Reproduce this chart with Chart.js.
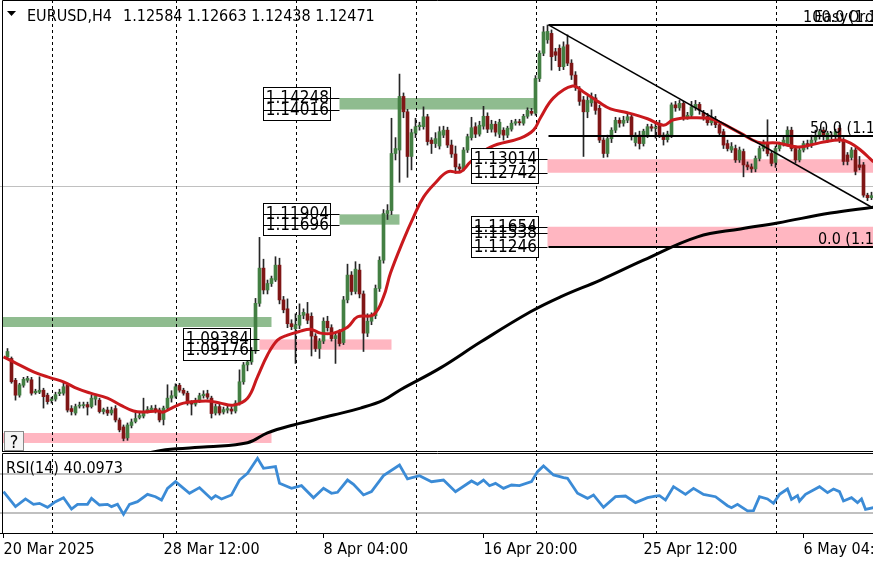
<!DOCTYPE html>
<html>
<head>
<meta charset="utf-8">
<title>EURUSD,H4</title>
<script src="https://cdn.jsdelivr.net/npm/chart.js@4.4.1/dist/chart.umd.min.js"></script>
<style>
  body { margin: 0; background: #fff; }
  #wrap { position: relative; width: 873px; height: 562px; overflow: hidden; background: #fff; }
  canvas { position: absolute; left: 0; }
</style>
</head>
<body>
<div id="wrap">
  <canvas id="main" width="873" height="452" style="top:0px"></canvas>
  <canvas id="rsi" width="873" height="109" style="top:453px"></canvas>
</div>
<script>
// H4 candles, bar 0 = 20 Mar 2025 00:00
var opens = [
  1.0903,1.0900,1.0856,1.0826,1.0846,1.0856,1.0857,1.0831,1.0832,1.0836,
  1.0826,1.0815,1.0818,1.0829,1.0830,1.0846,1.0799,1.0790,1.0804,1.0805,
  1.0807,1.0803,1.0818,1.0816,1.0793,1.0796,1.0790,1.0799,1.0776,1.0762,
  1.0740,1.0765,1.0773,1.0781,1.0784,1.0794,1.0797,1.0799,1.0796,1.0777,
  1.0800,1.0820,1.0824,1.0846,1.0836,1.0830,1.0810,1.0808,1.0815,1.0825,
  1.0829,1.0820,1.0790,1.0803,1.0792,1.0796,1.0798,1.0794,1.0810,1.0853,
  1.0887,1.0893,1.0915,1.1011,1.1082,1.1038,1.1051,1.1058,1.1088,1.1018,
  1.1000,1.0970,1.0960,1.0967,1.0987,1.0990,1.0985,1.0945,1.0920,1.0935,
  1.0975,1.0962,1.0940,1.0953,1.0932,1.1018,1.1068,1.1035,1.1078,1.1030,
  1.0951,1.0975,1.0986,1.1041,1.1098,1.1192,1.1198,1.1313,1.1320,1.1428,
  1.1397,1.1307,1.1354,1.1367,1.1367,1.1387,1.1340,1.1333,1.1328,1.1350,
  1.1360,1.1330,1.1312,1.1286,1.1282,1.1320,1.1345,1.1367,1.1352,1.1368,
  1.1388,1.1362,1.1372,1.1352,1.1360,1.1350,1.1362,1.1374,1.1377,1.1374,
  1.1388,1.1398,1.1394,1.1464,1.1515,1.1542,1.1555,1.1518,1.1525,1.1488,
  1.1532,1.1495,1.1471,1.1440,1.1421,1.1397,1.1415,1.1425,1.1404,1.1340,
  1.1313,1.1343,1.1360,1.1380,1.1374,1.1380,1.1387,1.1335,1.1350,1.1333,
  1.1350,1.1367,1.1364,1.1374,1.1350,1.1341,1.1350,1.1411,1.1405,1.1414,
  1.1387,1.1390,1.1405,1.1412,1.1395,1.1388,1.1375,1.1382,1.1371,1.1357,
  1.1333,1.1320,1.1323,1.1300,1.1317,1.1290,1.1286,1.1282,1.1303,1.1323,
  1.1333,1.1313,1.1295,1.1323,1.1333,1.1333,1.1360,1.1323,1.1300,1.1320,
  1.1333,1.1330,1.1340,1.1347,1.1360,1.1340,1.1350,1.1347,1.1364,1.1340,
  1.1310,1.1305,1.1320,1.1290,1.1290,1.1229,1.1224
];
var highs = [
  1.0920,1.0903,1.0860,1.0850,1.0862,1.0864,1.0862,1.0838,1.0863,1.0840,
  1.0830,1.0822,1.0832,1.0838,1.0850,1.0850,1.0805,1.0808,1.0812,1.0812,
  1.0812,1.0826,1.0828,1.0820,1.0800,1.0802,1.0802,1.0805,1.0780,1.0766,
  1.0770,1.0778,1.0792,1.0790,1.0820,1.0803,1.0805,1.0806,1.0800,1.0804,
  1.0847,1.0835,1.0849,1.0850,1.0840,1.0834,1.0815,1.0820,1.0830,1.0835,
  1.0836,1.0824,1.0808,1.0808,1.0802,1.0804,1.0803,1.0815,1.0877,1.0892,
  1.0905,1.0922,1.1021,1.1144,1.1100,1.1058,1.1066,1.1105,1.1102,1.1025,
  1.1020,1.0978,1.0990,1.1010,1.1000,1.1013,1.0992,1.0950,1.0940,1.0982,
  1.0985,1.0968,1.0952,1.0958,1.1025,1.1090,1.1075,1.1095,1.1090,1.1036,
  1.0990,1.0992,1.1048,1.1105,1.1200,1.1210,1.1384,1.1345,1.1473,1.1435,
  1.1402,1.1362,1.1384,1.1376,1.1407,1.1392,1.1345,1.1355,1.1367,1.1368,
  1.1366,1.1340,1.1328,1.1292,1.1325,1.1352,1.1386,1.1375,1.1378,1.1408,
  1.1395,1.1380,1.1378,1.1382,1.1365,1.1368,1.1380,1.1382,1.1382,1.1392,
  1.1405,1.1404,1.1470,1.1520,1.1569,1.1572,1.1562,1.1525,1.1532,1.1538,
  1.1552,1.1502,1.1478,1.1448,1.1428,1.1428,1.1435,1.1432,1.1410,1.1345,
  1.1350,1.1365,1.1386,1.1385,1.1388,1.1392,1.1392,1.1355,1.1358,1.1362,
  1.1372,1.1372,1.1378,1.1380,1.1355,1.1358,1.1415,1.1418,1.1420,1.1418,
  1.1396,1.1418,1.1420,1.1416,1.1400,1.1394,1.1401,1.1388,1.1375,1.1362,
  1.1340,1.1335,1.1330,1.1326,1.1322,1.1296,1.1292,1.1308,1.1328,1.1340,
  1.1381,1.1318,1.1328,1.1336,1.1346,1.1367,1.1366,1.1328,1.1325,1.1338,
  1.1340,1.1350,1.1360,1.1362,1.1366,1.1358,1.1356,1.1362,1.1370,1.1345,
  1.1315,1.1325,1.1325,1.1307,1.1295,1.1233,1.1235
];
var lows = [
  1.0898,1.0850,1.0816,1.0822,1.0842,1.0852,1.0826,1.0828,1.0829,1.0800,
  1.0808,1.0810,1.0814,1.0825,1.0826,1.0792,1.0786,1.0786,1.0800,1.0800,
  1.0786,1.0800,1.0806,1.0790,1.0788,1.0785,1.0786,1.0772,1.0752,1.0734,
  1.0735,1.0760,1.0770,1.0778,1.0780,1.0790,1.0793,1.0790,1.0772,1.0766,
  1.0797,1.0812,1.0820,1.0832,1.0826,1.0806,1.0786,1.0804,1.0811,1.0820,
  1.0818,1.0780,1.0786,1.0786,1.0788,1.0790,1.0788,1.0790,1.0806,1.0848,
  1.0875,1.0888,1.0910,1.1005,1.1030,1.1030,1.1045,1.1055,1.1010,1.0992,
  1.0962,1.0958,1.0890,1.0960,1.0980,1.0970,1.0905,1.0914,1.0900,1.0930,
  1.0955,1.0935,1.0890,1.0925,1.0928,1.1012,1.1028,1.1030,1.1022,1.0914,
  1.0944,1.0968,1.0980,1.1035,1.1092,1.1180,1.1190,1.1300,1.1255,1.1385,
  1.1265,1.1280,1.1345,1.1360,1.1362,1.1330,1.1313,1.1325,1.1322,1.1345,
  1.1325,1.1305,1.1273,1.1275,1.1278,1.1315,1.1340,1.1345,1.1348,1.1362,
  1.1355,1.1356,1.1348,1.1345,1.1340,1.1345,1.1358,1.1370,1.1370,1.1370,
  1.1384,1.1390,1.1390,1.1458,1.1510,1.1535,1.1481,1.1500,1.1480,1.1482,
  1.1490,1.1462,1.1440,1.1410,1.1307,1.1385,1.1408,1.1392,1.1335,1.1305,
  1.1306,1.1335,1.1355,1.1366,1.1368,1.1375,1.1340,1.1328,1.1322,1.1328,
  1.1345,1.1358,1.1344,1.1345,1.1330,1.1336,1.1345,1.1398,1.1400,1.1380,
  1.1382,1.1386,1.1400,1.1392,1.1380,1.1370,1.1370,1.1365,1.1350,1.1323,
  1.1318,1.1315,1.1295,1.1295,1.1266,1.1280,1.1275,1.1276,1.1298,1.1318,
  1.1308,1.1288,1.1285,1.1318,1.1328,1.1328,1.1318,1.1294,1.1296,1.1316,
  1.1322,1.1325,1.1335,1.1342,1.1340,1.1335,1.1342,1.1342,1.1335,1.1290,
  1.1290,1.1300,1.1270,1.1280,1.1225,1.1218,1.1220
];
var closes = [
  1.0914,1.0853,1.0826,1.0847,1.0858,1.0860,1.0830,1.0834,1.0836,1.0823,
  1.0813,1.0818,1.0827,1.0832,1.0843,1.0796,1.0793,1.0803,1.0806,1.0807,
  1.0802,1.0820,1.0824,1.0793,1.0797,1.0790,1.0796,1.0776,1.0756,1.0739,
  1.0766,1.0772,1.0779,1.0785,1.0793,1.0797,1.0800,1.0795,1.0776,1.0800,
  1.0820,1.0825,1.0843,1.0836,1.0830,1.0810,1.0808,1.0815,1.0825,1.0828,
  1.0822,1.0789,1.0803,1.0790,1.0797,1.0799,1.0794,1.0810,1.0853,1.0887,
  1.0893,1.0915,1.1011,1.1082,1.1038,1.1051,1.1061,1.1088,1.1018,1.0998,
  1.0970,1.0964,1.0968,1.0987,1.0993,1.0977,1.0945,1.0920,1.0935,1.0975,
  1.0962,1.0940,1.0946,1.0930,1.1018,1.1068,1.1035,1.1080,1.1030,1.0951,
  1.0975,1.0986,1.1041,1.1098,1.1192,1.1198,1.1313,1.1323,1.1428,1.1397,
  1.1307,1.1355,1.1367,1.1370,1.1387,1.1337,1.1333,1.1343,1.1357,1.1360,
  1.1330,1.1312,1.1286,1.1282,1.1320,1.1347,1.1365,1.1352,1.1370,1.1388,
  1.1362,1.1372,1.1356,1.1376,1.1350,1.1364,1.1374,1.1377,1.1375,1.1388,
  1.1400,1.1394,1.1464,1.1515,1.1558,1.1559,1.1508,1.1511,1.1488,1.1528,
  1.1495,1.1471,1.1448,1.1418,1.1397,1.1420,1.1428,1.1400,1.1340,1.1313,
  1.1343,1.1360,1.1380,1.1374,1.1380,1.1387,1.1347,1.1350,1.1333,1.1358,
  1.1367,1.1364,1.1366,1.1350,1.1341,1.1352,1.1411,1.1405,1.1414,1.1387,
  1.1390,1.1407,1.1412,1.1400,1.1388,1.1375,1.1385,1.1371,1.1354,1.1330,
  1.1323,1.1327,1.1300,1.1320,1.1290,1.1286,1.1282,1.1303,1.1323,1.1333,
  1.1313,1.1293,1.1323,1.1330,1.1340,1.1360,1.1323,1.1300,1.1320,1.1333,
  1.1328,1.1340,1.1347,1.1357,1.1347,1.1354,1.1347,1.1357,1.1340,1.1297,
  1.1297,1.1320,1.1277,1.1285,1.1229,1.1224,1.1228
];

// moving averages (bar index, price)
var redMaBars = [-1, 1.5, 6.5, 10.75, 14, 17.5, 20.75, 25, 28.25, 31.5, 34, 37.5, 39, 41.5, 44, 48.25, 50.75, 53.25, 56.5, 60,
  62.5, 65, 67.5, 70, 73.25, 75.75, 78.25, 81.5, 85, 87.5, 91.5, 94, 95.75, 99, 101.5, 104, 107, 110, 113.25, 115.75,
  120.75, 128.25, 131.5, 133.25, 136.5, 141.25, 144, 147.75, 150.75, 155, 160, 164, 166.5, 171.5, 175.75, 178.25, 183.25, 187.5, 192.5, 197.5,
  200.75, 204, 208.25, 210.75, 213.25, 216.5];
var redMaVals = [1.0903, 1.0893, 1.0873, 1.0861, 1.0853, 1.0839, 1.0830, 1.0820, 1.0806, 1.0794, 1.0792, 1.0794, 1.0792, 1.0802, 1.0810, 1.0814, 1.0814, 1.0810, 1.0806, 1.0820,
  1.0863, 1.0907, 1.0937, 1.0947, 1.0955, 1.0959, 1.0951, 1.0951, 1.0963, 1.0984, 1.0988, 1.1024, 1.1072, 1.1139, 1.1185, 1.1225, 1.1254, 1.1276, 1.1276, 1.1296,
  1.1326, 1.1344, 1.1360, 1.1385, 1.1425, 1.1449, 1.1437, 1.1417, 1.1403, 1.1395, 1.1383, 1.1370, 1.1381, 1.1385, 1.1383, 1.1375, 1.1354, 1.1336, 1.1334, 1.1326,
  1.1330, 1.1336, 1.1340, 1.1334, 1.1320, 1.1296];
var blackMaBars = [33.25, 39.5, 50, 60, 65, 71.5, 81.5, 88.25, 94, 98.25, 108.25, 118.25, 130.75, 138.25, 148.25, 159, 172.5, 183.25, 192.5, 205.75, 216.5];
var blackMaVals = [1.0706, 1.0716, 1.0722, 1.0730, 1.0750, 1.0766, 1.0786, 1.0800, 1.0816, 1.0837, 1.0881, 1.0933, 1.0994, 1.1024, 1.1058, 1.1098, 1.1145, 1.1161, 1.1173, 1.1193, 1.1205];

// RSI(14)
var rsiBars = [-1, 2, 4.5, 6.5, 8, 10, 12, 14, 16, 17.5, 20, 21, 23, 25, 26, 27.5, 29, 30.5, 32.5, 35,
  37, 38.5, 40, 42, 43.5, 45.5, 48, 51, 52, 53.5, 56, 58, 60, 62.5, 64, 67, 68, 71, 73.5, 76.5,
  79, 81, 82.5, 85, 86.5, 89, 91, 94, 98, 100, 103, 106, 109, 112, 116, 117.5, 119, 120.5, 122, 124,
  126, 128, 131, 132.5, 134, 136.5, 139, 140, 142.5, 145, 146.5, 149, 152, 154.5, 157, 160, 162, 163, 164.5, 166.5,
  169.5, 171.5, 174, 177, 180, 181, 182.5, 185, 186.5, 188, 190, 191.5, 193, 195, 196, 197.5, 198, 199.5, 203, 205,
  206.5, 208, 209, 211, 212.5, 213.5, 214.5, 216.5];
var rsiVals = [51.9, 36.5, 44.4, 38.9, 39.9, 35.8, 41.6, 45.7, 34.1, 38.9, 38.9, 45.0, 38.2, 38.9, 36.5, 38.9, 28.6, 38.9, 41.6, 49.1,
  46.7, 43.3, 55.3, 62.1, 57.0, 50.2, 56.0, 44.4, 47.8, 44.4, 48.5, 63.8, 70.7, 86.1, 75.8, 77.5, 60.4, 55.3, 58.0, 45.7,
  55.3, 50.2, 51.2, 63.8, 59.4, 48.5, 51.9, 68.3, 79.2, 64.9, 68.3, 62.1, 63.8, 51.9, 62.8, 59.4, 63.8, 58.0, 60.4, 55.3,
  58.7, 58.0, 62.1, 72.4, 78.2, 69.0, 66.2, 65.6, 50.2, 45.0, 48.5, 35.8, 46.7, 47.4, 40.6, 45.7, 47.4, 47.8, 43.3, 57.0,
  49.1, 55.3, 49.1, 46.7, 37.5, 35.5, 38.9, 32.1, 32.4, 46.7, 44.4, 39.9, 49.1, 54.6, 44.0, 47.8, 42.3, 49.1, 57.0, 50.9,
  54.6, 51.9, 42.3, 45.7, 40.6, 44.4, 33.8, 35.5];
var rsiLevels = [70, 30];
var rsiNow = 40.0973;

// time axis
var tickBars = [-1, 39, 79, 119, 159, 199];
var tickLabels = ['20 Mar 2025', '28 Mar 12:00', '8 Apr 04:00', '16 Apr 20:00', '25 Apr 12:00', '6 May 04:00'];
var gridBars = [11, 42, 72, 102, 132, 162, 192];

// supply / demand zones
var zoneFrom = [83, 83, 135, 135, -3, 63, -3];
var zoneTo = [132, 98, 230, 230, 66, 96, 66];
var zoneHigh = [1.14248, 1.11904, 1.13014, 1.11654, 1.09835, 1.09384, 1.07498];
var zoneLow = [1.14016, 1.11696, 1.12742, 1.11246, 1.09634, 1.09176, 1.07297];
var zoneBuy = [true, true, false, false, true, false, false];

// price label boxes
var labelFrom = [83, 83, 135, 135, 63];
var labelPrices = [[1.14248, 1.14016], [1.11904, 1.11696], [1.13014, 1.12742], [1.11654, 1.11538, 1.11246], [1.09384, 1.09176]];

// fibonacci + trend line
var fibFrom = 135.25, fibTo = 230;
var fibLevels = ['100.0', '50.0', '0.0'];
var fibPrices = [1.15720, 1.13483, 1.11246];
var fibTextBars = [198.9, 200.6, 202.6];
var trendBars = [135.25, 216.4];
var trendVals = [1.15720, 1.12032];

var symbol = 'EURUSD,H4';
var lastBar = [1.12584, 1.12663, 1.12438, 1.12471];

var X_MIN = -1.875, X_MAX = 216.375;
var Y_MIN = 1.07115, Y_MAX = 1.16223;

var FONT = '"DejaVu Sans Condensed", "DejaVu Sans", sans-serif';
var BULL = '#437f43', BEAR = '#7f1616', WICK = '#262626';

Chart.defaults.font.family = FONT;
Chart.defaults.color = '#000';

function pts(xs, ys) {
  return xs.map(function (v, k) { return { x: v, y: ys[k] }; });
}
var idx = opens.map(function (v, i) { return i; });

function drawGrid(chart) {
  var ctx = chart.ctx, a = chart.chartArea, x = chart.scales.x;
  ctx.save();
  ctx.strokeStyle = '#000';
  ctx.lineWidth = 1;
  ctx.setLineDash([3, 3]);
  gridBars.forEach(function (b) {
    var px = Math.round(x.getPixelForValue(b)) + 0.5;
    ctx.beginPath();
    ctx.moveTo(px, a.top);
    ctx.lineTo(px, a.bottom);
    ctx.stroke();
  });
  ctx.restore();
}

var mainDecor = {
  id: 'mainDecor',
  beforeDatasetsDraw: function (chart) {
    var ctx = chart.ctx, a = chart.chartArea, x = chart.scales.x, y = chart.scales.y;
    ctx.save();
    zoneFrom.forEach(function (s, k) {
      var x0 = Math.max(x.getPixelForValue(s), 3);
      var x1 = x.getPixelForValue(zoneTo[k]);
      var y0 = y.getPixelForValue(zoneHigh[k]);
      var y1 = y.getPixelForValue(zoneLow[k]);
      ctx.fillStyle = zoneBuy[k] ? '#8fbc8f' : '#ffb6c1';
      ctx.fillRect(x0, y0, x1 - x0, y1 - y0);
    });
    // bid line
    var by = Math.round(y.getPixelForValue(lastBar[3])) + 0.5;
    ctx.strokeStyle = '#c0c0c0';
    ctx.lineWidth = 1;
    ctx.beginPath();
    ctx.moveTo(a.left, by);
    ctx.lineTo(a.right, by);
    ctx.stroke();
    ctx.restore();
    drawGrid(chart);
  },
  afterDatasetsDraw: function (chart) {
    var ctx = chart.ctx, x = chart.scales.x, y = chart.scales.y;
    ctx.save();
    ctx.font = '17px ' + FONT;
    labelFrom.forEach(function (from, k) {
      var prices = labelPrices[k];
      var xEnd = x.getPixelForValue(from);
      var right = Math.round(xEnd - 10);
      var w = 0;
      prices.forEach(function (p) { w = Math.max(w, ctx.measureText(p.toFixed(5)).width); });
      var left = Math.round(right - w - 4);
      var ys = prices.map(function (p) { return Math.round(y.getPixelForValue(p)); });
      var top = Math.min.apply(null, ys) - 11, bottom = Math.max.apply(null, ys) + 10;
      ctx.fillStyle = '#fff';
      ctx.fillRect(left, top, right - left, bottom - top);
      ctx.strokeStyle = '#000';
      ctx.lineWidth = 1;
      ctx.strokeRect(left + 0.5, top + 0.5, right - left, bottom - top);
      ctx.fillStyle = '#000';
      ctx.textAlign = 'right';
      ctx.textBaseline = 'middle';
      prices.forEach(function (p, j) { ctx.fillText(p.toFixed(5), right - 1, ys[j] + 1); });
      ys.forEach(function (py) {
        ctx.beginPath();
        ctx.moveTo(left, py + 0.5);
        ctx.lineTo(xEnd, py + 0.5);
        ctx.stroke();
      });
    });
    ctx.restore();
  },
  afterDraw: function (chart) {
    var ctx = chart.ctx, a = chart.chartArea, x = chart.scales.x, y = chart.scales.y;
    ctx.save();
    // frame
    ctx.strokeStyle = '#000';
    ctx.lineWidth = 1;
    ctx.beginPath();
    ctx.moveTo(2.5, a.bottom);
    ctx.lineTo(2.5, 0.5);
    ctx.lineTo(a.right, 0.5);
    ctx.moveTo(2, a.bottom - 0.5);
    ctx.lineTo(a.right, a.bottom - 0.5);
    ctx.stroke();

    // header
    ctx.fillStyle = '#000';
    ctx.beginPath();
    ctx.moveTo(7, 11);
    ctx.lineTo(16, 11);
    ctx.lineTo(11.5, 16);
    ctx.closePath();
    ctx.fill();
    ctx.font = '16px ' + FONT;
    ctx.textAlign = 'left';
    ctx.textBaseline = 'alphabetic';
    ctx.fillText(symbol, 27, 21);
    ctx.fillText(lastBar.map(function (v) { return v.toFixed(5); }).join(' '), 123, 21);

    // fibo labels
    fibLevels.forEach(function (lv, k) {
      var px = x.getPixelForValue(fibTextBars[k]);
      var py = y.getPixelForValue(fibPrices[k]) - 3;
      ctx.fillText(lv + ' (' + fibPrices[k].toFixed(5) + ')', px, py);
    });
    ctx.fillText('EasyOrder', x.getPixelForValue(fibTextBars[0]) + 11, y.getPixelForValue(fibPrices[0]) - 3);

    // "?" button
    ctx.fillStyle = '#f4f4f4';
    ctx.fillRect(4, 431, 20, 20);
    ctx.strokeStyle = '#8a8a8a';
    ctx.strokeRect(4.5, 431.5, 19, 19);
    ctx.fillStyle = '#000';
    ctx.font = '18px ' + FONT;
    ctx.textAlign = 'center';
    ctx.fillText('?', 14, 448);
    ctx.restore();
  }
};

new Chart(document.getElementById('main'), {
  type: 'line',
  data: {
    datasets: [
      { type: 'line', data: pts(trendBars, trendVals), borderColor: '#000', borderWidth: 1.5, pointRadius: 0, order: 0 },
      { type: 'line', data: pts([fibFrom, fibTo], [fibPrices[0], fibPrices[0]]), borderColor: '#000', borderWidth: 2, pointRadius: 0, order: 0 },
      { type: 'line', data: pts([fibFrom, fibTo], [fibPrices[1], fibPrices[1]]), borderColor: '#000', borderWidth: 2, pointRadius: 0, order: 0 },
      { type: 'line', data: pts([fibFrom, fibTo], [fibPrices[2], fibPrices[2]]), borderColor: '#000', borderWidth: 2, pointRadius: 0, order: 0 },
      { type: 'line', data: pts(redMaBars, redMaVals), borderColor: '#c9191d', borderWidth: 3, tension: 0.4, pointRadius: 0, order: 1 },
      { type: 'line', data: pts(blackMaBars, blackMaVals), borderColor: '#000', borderWidth: 3, tension: 0.4, pointRadius: 0, order: 2 },
      {
        type: 'bar',
        data: idx.map(function (i) { return { x: i, y: [lows[i], highs[i]] }; }),
        backgroundColor: WICK,
        barThickness: 1,
        grouped: false,
        order: 4
      },
      {
        type: 'bar',
        data: idx.map(function (i) { return { x: i, y: [opens[i], closes[i]] }; }),
        backgroundColor: idx.map(function (i) { return closes[i] >= opens[i] ? BULL : BEAR; }),
        barThickness: 3,
        minBarLength: 1,
        grouped: false,
        order: 3
      }
    ]
  },
  options: {
    animation: false,
    responsive: false,
    devicePixelRatio: 1,
    events: [],
    layout: { padding: 0 },
    plugins: { legend: { display: false }, tooltip: { enabled: false } },
    scales: {
      x: { type: 'linear', min: X_MIN, max: X_MAX, offset: false, bounds: 'data', display: false },
      y: { type: 'linear', min: Y_MIN, max: Y_MAX, display: false }
    }
  },
  plugins: [mainDecor]
});

var rsiDecor = {
  id: 'rsiDecor',
  beforeDatasetsDraw: function (chart) {
    var ctx = chart.ctx, a = chart.chartArea, y = chart.scales.y;
    ctx.save();
    ctx.strokeStyle = '#c0c0c0';
    ctx.lineWidth = 2;
    rsiLevels.forEach(function (lv) {
      var py = Math.round(y.getPixelForValue(lv));
      ctx.beginPath();
      ctx.moveTo(a.left, py);
      ctx.lineTo(a.right, py);
      ctx.stroke();
    });
    ctx.restore();
    drawGrid(chart);
  },
  afterDraw: function (chart) {
    var ctx = chart.ctx, a = chart.chartArea;
    ctx.save();
    ctx.strokeStyle = '#000';
    ctx.lineWidth = 1;
    ctx.beginPath();
    ctx.moveTo(a.right, 0.5);
    ctx.lineTo(2.5, 0.5);
    ctx.lineTo(2.5, a.bottom);
    ctx.stroke();
    ctx.fillStyle = '#000';
    ctx.font = '16px ' + FONT;
    ctx.textAlign = 'left';
    ctx.textBaseline = 'alphabetic';
    ctx.fillText('RSI(14) ' + rsiNow.toFixed(4), 6, 20);
    ctx.restore();
  }
};

new Chart(document.getElementById('rsi'), {
  type: 'line',
  data: {
    datasets: [
      { data: pts(rsiBars, rsiVals), borderColor: '#3b8bd6', borderWidth: 2.8, pointRadius: 0, tension: 0 }
    ]
  },
  options: {
    animation: false,
    responsive: false,
    devicePixelRatio: 1,
    events: [],
    layout: { padding: 0 },
    plugins: { legend: { display: false }, tooltip: { enabled: false } },
    scales: {
      x: {
        type: 'linear', min: X_MIN, max: X_MAX, offset: false, bounds: 'data',
        afterBuildTicks: function (s) { s.ticks = tickBars.map(function (v) { return { value: v }; }); },
        afterFit: function (s) { s.height = 29; s.paddingLeft = 0; s.paddingRight = 0; },
        ticks: {
          callback: function (v, i) { return tickLabels[i]; },
          align: 'start', autoSkip: false, maxRotation: 0, minRotation: 0,
          padding: 2, color: '#000', font: { size: 16 }
        },
        grid: { drawOnChartArea: false, drawTicks: true, tickLength: 5, color: '#000' },
        border: { display: true, color: '#000', width: 1 }
      },
      y: { type: 'linear', min: 9.5, max: 91.5, display: false }
    }
  },
  plugins: [rsiDecor]
});
</script>
</body>
</html>
